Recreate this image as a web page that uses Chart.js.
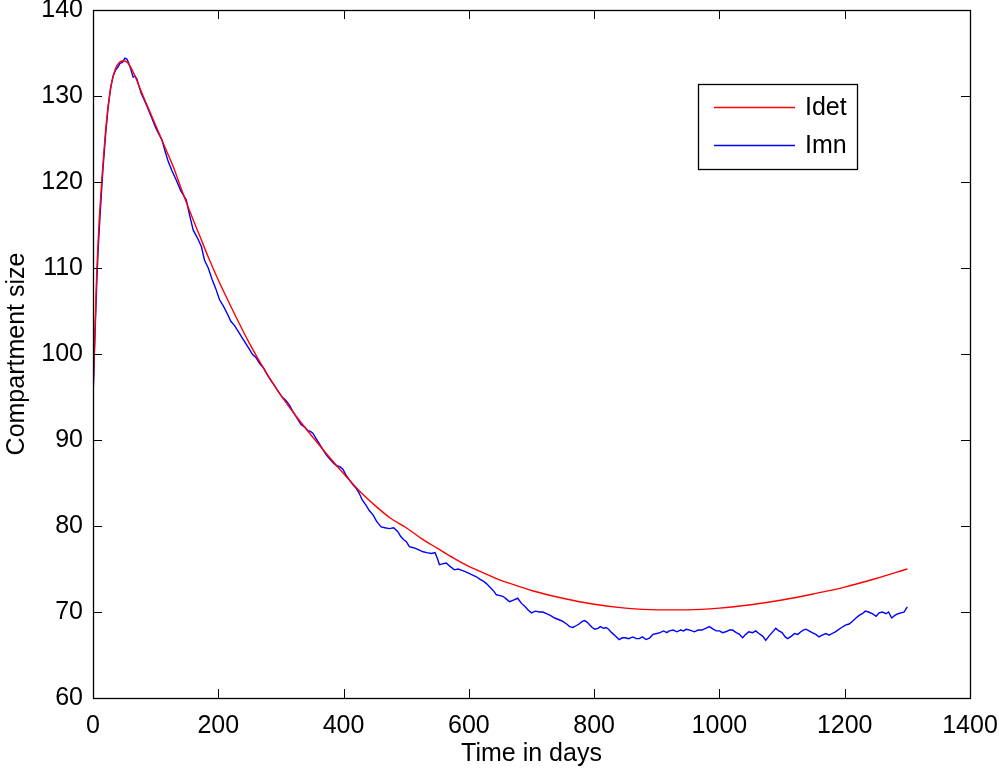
<!DOCTYPE html>
<html>
<head>
<meta charset="utf-8">
<script src="https://cdn.jsdelivr.net/npm/chart.js@4.4.1/dist/chart.umd.min.js"></script>
<style>
  body { margin: 0; background: #fff; }
  canvas { display: block; }
</style>
</head>
<body>
<canvas id="compChart" width="999" height="770"></canvas>
<script>
// Idet (deterministic)
const detDays = [0, 2, 4, 6, 8, 10, 14, 19, 24, 30, 36, 42, 48, 55, 62, 70, 80, 90, 100, 115, 128, 140, 155, 170, 185, 200,
  225, 250, 275, 300, 325, 350, 375, 400, 425, 450, 475, 500, 525, 550, 575, 600, 625, 650, 675, 700, 750, 800, 850,
  900, 950, 1000, 1050, 1100, 1150, 1200, 1250, 1300];
const idetValues = [95, 100, 104.8, 109.5, 112.8, 115.7, 120.2, 125, 128.7, 131.6, 133.2, 133.9, 134.1, 133.9, 133.1, 131.8,
  130.0, 128.3, 126.6, 124.0, 121.8, 119.4, 116.5, 113.8, 111.1, 108.6, 104.8, 101.2, 98.0, 95.2, 92.7, 90.4, 88.2,
  86.1, 84.1, 82.4, 80.9, 79.8, 78.5, 77.4, 76.3, 75.3, 74.5, 73.7, 73.1, 72.5, 71.6, 70.9, 70.45, 70.25, 70.25,
  70.45, 70.85, 71.4, 72.1, 72.9, 73.9, 75.0];

// Imn (stochastic mean)
const mnDays = [0, 2, 4, 6, 8, 10, 13, 16, 20, 24, 28, 32, 36, 40, 43, 47, 51, 54, 56, 60, 64, 67, 70, 74, 77, 82, 88, 94,
  100, 105, 110, 115, 120, 126, 133, 140, 149, 154, 160, 166, 173, 178, 184, 190, 196, 202, 208, 215, 220, 226, 232,
  238, 244, 250, 255, 260, 266, 272, 278, 284, 290, 296, 302, 308, 314, 320, 326, 332, 338, 343, 347, 351, 356, 361,
  366, 372, 378, 384, 389, 394, 399, 404, 410, 415, 420, 425, 430, 436, 441, 447, 453, 460, 466, 473, 480, 487, 491,
  496, 500, 505, 510, 515, 521, 527, 533, 540, 546, 550, 553, 558, 564, 570, 577, 583, 590, 597, 606, 612, 618, 623,
  628, 635, 640, 644, 650, 655, 660, 665, 672, 678, 684, 690, 695, 700, 706, 713, 718, 724, 730, 737, 744, 750, 756,
  761, 766, 771, 776, 781, 785, 789, 793, 797, 801, 806, 810, 815, 819, 823, 828, 834, 840, 845, 850, 855, 862, 867,
  872, 877, 883, 889, 894, 900, 905, 911, 916, 920, 926, 932, 938, 943, 947, 953, 960, 966, 972, 978, 984, 990, 995,
  1000, 1005, 1010, 1016, 1021, 1027, 1032, 1037, 1042, 1047, 1053, 1058, 1063, 1069, 1074, 1079, 1084, 1090, 1095,
  1100, 1105, 1109, 1115, 1120, 1125, 1130, 1134, 1138, 1143, 1148, 1154, 1159, 1164, 1170, 1175, 1180, 1185, 1189,
  1195, 1202, 1207, 1212, 1218, 1223, 1228, 1233, 1238, 1244, 1250, 1255, 1260, 1266, 1270, 1275, 1280, 1285, 1290,
  1295, 1298, 1300];
const imnValues = [94.8, 99.5, 104, 108.3, 111.8, 114.5, 118.2, 121.6, 125.4, 128.6, 130.9, 132.3, 133.0, 133.4, 133.8,
  133.9, 134.4, 134.3, 134.0, 133.2, 132.2, 132.3, 132.0, 131.0, 130.3, 129.5, 128.5, 127.4, 126.3, 125.6, 124.9,
  123.6, 122.4, 121.3, 120.2, 119.0, 117.9, 116.2, 114.4, 113.6, 112.5, 110.9, 110.0, 108.7, 107.6, 106.3, 105.6,
  104.6, 103.8, 103.3, 102.6, 101.9, 101.2, 100.5, 99.9, 99.6, 98.9, 98.4, 97.6, 96.9, 96.3, 95.6, 95.0, 94.6, 94.0,
  93.2, 92.5, 91.8, 91.5, 91.1, 91.0, 90.8, 90.2, 89.6, 89.0, 88.3, 87.8, 87.3, 87.0, 86.9, 86.6, 85.9, 85.3, 84.8,
  84.4, 83.8, 83.0, 82.4, 81.8, 81.3, 80.5, 79.9, 79.8, 79.7, 79.8, 79.3, 78.8, 78.4, 78.2, 77.6, 77.5, 77.4, 77.2,
  77.0, 76.9, 76.8, 76.9, 76.2, 75.5, 75.6, 75.7, 75.3, 74.9, 75.0, 74.8, 74.6, 74.3, 74.1, 73.8, 73.6, 73.3, 72.8,
  72.4, 72.0, 71.9, 71.8, 71.5, 71.2, 71.4, 71.6, 71.0, 70.6, 70.2, 69.9, 70.1, 70.0, 70.0, 69.8, 69.6, 69.3, 69.1,
  68.9, 68.6, 68.3, 68.2, 68.4, 68.6, 68.9, 69.0, 68.8, 68.5, 68.2, 68.0, 68.1, 68.3, 68.1, 68.2, 68.0, 67.6, 67.2,
  66.8, 67.0, 67.0, 66.9, 67.1, 66.9, 66.9, 67.1, 66.8, 67.0, 67.4, 67.5, 67.6, 67.8, 67.6, 67.8, 67.9, 67.7, 67.9,
  67.8, 68.0, 67.9, 67.7, 67.9, 67.9, 68.1, 68.3, 68.0, 67.8, 67.8, 67.6, 67.7, 67.9, 67.9, 67.6, 67.4, 67.0, 67.4,
  67.7, 67.6, 67.8, 67.5, 67.2, 66.7, 67.2, 67.6, 68.1, 67.8, 67.6, 67.1, 66.9, 67.2, 67.5, 67.4, 67.7, 67.9, 68.0,
  67.8, 67.6, 67.4, 67.1, 67.3, 67.5, 67.3, 67.5, 67.7, 67.9, 68.2, 68.5, 68.6, 68.9, 69.3, 69.6, 69.8, 70.1, 70.0,
  69.8, 69.5, 69.9, 70.0, 69.8, 70.0, 69.3, 69.6, 69.8, 69.9, 70.0, 70.4, 70.6];

const xTicks = [0, 200, 400, 600, 800, 1000, 1200, 1400];
const yTicks = [60, 70, 80, 90, 100, 110, 120, 130, 140];

const FONT = 'Liberation Sans, Arial, Helvetica, sans-serif';

// matlab style box with inward ticks on every side
const boxPlugin = {
  id: 'box',
  afterDatasetsDraw(chart) {
    const { ctx, chartArea: a, scales } = chart;
    const len = 9;
    ctx.save();
    ctx.strokeStyle = '#000';
    ctx.lineWidth = 1;
    ctx.beginPath();
    scales.x.ticks.forEach(t => {
      const px = Math.round(scales.x.getPixelForValue(t.value)) + 0.5;
      ctx.moveTo(px, a.bottom); ctx.lineTo(px, a.bottom - len);
      ctx.moveTo(px, a.top); ctx.lineTo(px, a.top + len);
    });
    scales.y.ticks.forEach(t => {
      const py = Math.round(scales.y.getPixelForValue(t.value)) + 0.5;
      ctx.moveTo(a.left, py); ctx.lineTo(a.left + len, py);
      ctx.moveTo(a.right, py); ctx.lineTo(a.right - len, py);
    });
    ctx.stroke();
    ctx.lineWidth = 1.3;
    ctx.strokeRect(Math.round(a.left) + 0.5, Math.round(a.top) + 0.5,
      Math.round(a.right - a.left), Math.round(a.bottom - a.top));
    ctx.restore();
  }
};

// legend box in the upper right of the plot
const legendPlugin = {
  id: 'boxLegend',
  afterDraw(chart) {
    const ctx = chart.ctx;
    const bx = 698, by = 84, bw = 159, bh = 85;
    ctx.save();
    ctx.fillStyle = '#fff';
    ctx.fillRect(bx, by, bw, bh);
    ctx.strokeStyle = '#000';
    ctx.lineWidth = 1.3;
    ctx.strokeRect(bx + 0.5, by + 0.5, bw, bh);
    ctx.font = '25px ' + FONT;
    ctx.textBaseline = 'middle';
    chart.data.datasets.forEach((ds, i) => {
      const y = by + 23.5 + i * 38;
      ctx.strokeStyle = ds.borderColor;
      ctx.lineWidth = 1.3;
      ctx.beginPath();
      ctx.moveTo(714, y); ctx.lineTo(795, y);
      ctx.stroke();
      ctx.fillStyle = '#000';
      ctx.fillText(ds.label, 805, y + 1);
    });
    ctx.restore();
  }
};

function noPad(s) {
  s.paddingTop = 0; s.paddingBottom = 0; s.paddingLeft = 0; s.paddingRight = 0;
}

new Chart(document.getElementById('compChart').getContext('2d'), {
  type: 'line',
  data: {
    datasets: [{
      label: 'Idet',
      data: detDays.map((d, i) => ({ x: d, y: idetValues[i] })),
      borderColor: '#ff0000',
      borderWidth: 1.4,
      pointRadius: 0,
      cubicInterpolationMode: 'monotone',
      fill: false
    }, {
      label: 'Imn',
      data: mnDays.map((d, i) => ({ x: d, y: imnValues[i] })),
      borderColor: '#0000ff',
      borderWidth: 1.4,
      pointRadius: 0,
      tension: 0,
      fill: false
    }]
  },
  options: {
    responsive: false,
    animation: false,
    layout: { padding: { top: 10, right: 29, left: 0, bottom: 0 } },
    plugins: { legend: { display: false }, tooltip: { enabled: false } },
    scales: {
      x: {
        type: 'linear',
        min: 0, max: 1400,
        afterBuildTicks: s => { s.ticks = xTicks.map(v => ({ value: v })); },
        afterFit: s => { s.height = 72; noPad(s); },
        grid: { display: false, drawTicks: false },
        border: { display: false },
        ticks: { color: '#000', padding: 13, maxRotation: 0, callback: v => String(v), font: { family: FONT, size: 25 } },
        title: { display: true, text: 'Time in days', color: '#000', padding: { top: 0, bottom: 1 }, font: { family: FONT, size: 25 } }
      },
      y: {
        min: 60, max: 140,
        afterBuildTicks: s => { s.ticks = yTicks.map(v => ({ value: v })); },
        afterFit: s => { s.width = 93; noPad(s); },
        grid: { display: false, drawTicks: false },
        border: { display: false },
        ticks: { color: '#000', padding: 10, callback: v => String(v), font: { family: FONT, size: 25 } },
        title: { display: true, text: 'Compartment size', color: '#000', padding: { top: 2, bottom: 0 }, font: { family: FONT, size: 25 } }
      }
    }
  },
  plugins: [boxPlugin, legendPlugin]
});
</script>
</body>
</html>
